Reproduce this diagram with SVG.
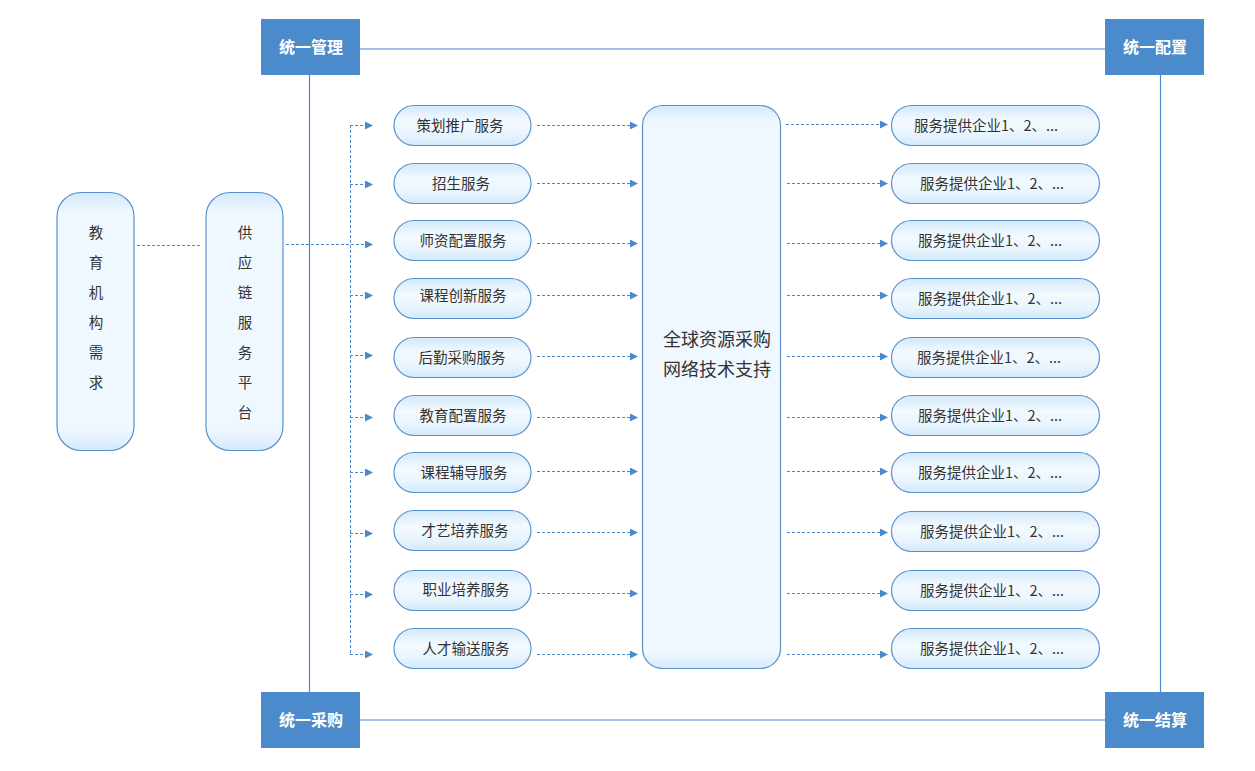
<svg xmlns="http://www.w3.org/2000/svg" width="1255" height="771" viewBox="0 0 1255 771">
<defs>
<linearGradient id="gPill" x1="0" y1="0" x2="0" y2="1">
<stop offset="0" stop-color="#d3e9fa"/>
<stop offset="0.4" stop-color="#f3faff"/>
<stop offset="0.7" stop-color="#eaf5fe"/>
<stop offset="1" stop-color="#d3e9fa"/>
</linearGradient>
<linearGradient id="gTall" x1="0" y1="0" x2="0" y2="1">
<stop offset="0" stop-color="#d3e9fa"/>
<stop offset="0.08" stop-color="#f0f8ff"/>
<stop offset="0.92" stop-color="#f0f8ff"/>
<stop offset="1" stop-color="#d3e9fa"/>
</linearGradient>
<linearGradient id="gBig" x1="0" y1="0" x2="0" y2="1">
<stop offset="0" stop-color="#d3e9fa"/>
<stop offset="0.03" stop-color="#f0f8ff"/>
<stop offset="0.97" stop-color="#f0f8ff"/>
<stop offset="1" stop-color="#d3e9fa"/>
</linearGradient>
<marker id="arr" viewBox="0 0 8 8" refX="7" refY="4" markerWidth="8" markerHeight="8" markerUnits="userSpaceOnUse" orient="auto">
<path d="M0,0 L8,4 L0,8 z" fill="#4a89cb"/>
</marker>
</defs>
<style>
.pill{fill:url(#gPill);stroke:#5a90cd;stroke-width:1.2}
.tall{fill:url(#gTall);stroke:#5a90cd;stroke-width:1.2}
.big{fill:url(#gBig);stroke:#5a90cd;stroke-width:1.2}
.corner{fill:#4b8bcb}
.ctext{font-family:"Noto Sans CJK SC","Liberation Sans",sans-serif;font-size:16px;font-weight:bold;fill:#ffffff;text-anchor:middle}
.t{font-family:"Noto Sans CJK SC","Liberation Sans",sans-serif;font-size:14.5px;fill:#333333;text-anchor:middle}
.tb{font-family:"Noto Sans CJK SC","Liberation Sans",sans-serif;font-size:18px;fill:#333333;text-anchor:middle}
.frame{stroke:#4a89cb;stroke-width:1.2;fill:none}
.dash{stroke:#4a89cb;stroke-width:1;stroke-dasharray:3,2;fill:none}
.da{stroke:#4a89cb;stroke-width:1;stroke-dasharray:3,2;fill:none;marker-end:url(#arr)}
</style>

<g id="frame">
<line class="frame" x1="360" y1="49" x2="1105" y2="49"/>
<line class="frame" x1="360" y1="720" x2="1105" y2="720"/>
<line class="frame" x1="309.5" y1="75" x2="309.5" y2="692"/>
<line class="frame" x1="1160.5" y1="75" x2="1160.5" y2="692"/>
</g>

<g id="connectors">
<line class="dash" x1="137" y1="245.5" x2="200" y2="245.5"/>
<line class="dash" x1="350.5" y1="125" x2="350.5" y2="655"/>
<line class="da" x1="286" y1="244.5" x2="372" y2="244.5"/>
<line class="da" x1="350" y1="125.5" x2="372" y2="125.5"/>
<line class="da" x1="350" y1="184.5" x2="372" y2="184.5"/>
<line class="da" x1="350" y1="295.5" x2="372" y2="295.5"/>
<line class="da" x1="350" y1="355.5" x2="372" y2="355.5"/>
<line class="da" x1="350" y1="417.5" x2="372" y2="417.5"/>
<line class="da" x1="350" y1="472.5" x2="372" y2="472.5"/>
<line class="da" x1="350" y1="533.5" x2="372" y2="533.5"/>
<line class="da" x1="350" y1="594.5" x2="372" y2="594.5"/>
<line class="da" x1="350" y1="654.5" x2="372" y2="654.5"/>

<line class="da" x1="537" y1="125.5" x2="637" y2="125.5"/>
<line class="da" x1="537" y1="183.5" x2="637" y2="183.5"/>
<line class="da" x1="537" y1="243.5" x2="637" y2="243.5"/>
<line class="da" x1="537" y1="295.5" x2="637" y2="295.5"/>
<line class="da" x1="537" y1="356.5" x2="637" y2="356.5"/>
<line class="da" x1="537" y1="417.5" x2="637" y2="417.5"/>
<line class="da" x1="537" y1="471.5" x2="637" y2="471.5"/>
<line class="da" x1="537" y1="532.5" x2="637" y2="532.5"/>
<line class="da" x1="537" y1="593.5" x2="637" y2="593.5"/>
<line class="da" x1="537" y1="654.5" x2="637" y2="654.5"/>

<line class="da" x1="786" y1="124.5" x2="887" y2="124.5"/>
<line class="da" x1="787" y1="183.5" x2="887" y2="183.5"/>
<line class="da" x1="787" y1="243.5" x2="887" y2="243.5"/>
<line class="da" x1="787" y1="295.5" x2="887" y2="295.5"/>
<line class="da" x1="787" y1="356.5" x2="887" y2="356.5"/>
<line class="da" x1="787" y1="417.5" x2="887" y2="417.5"/>
<line class="da" x1="787" y1="471.5" x2="887" y2="471.5"/>
<line class="da" x1="787" y1="532.5" x2="887" y2="532.5"/>
<line class="da" x1="787" y1="593.5" x2="887" y2="593.5"/>
<line class="da" x1="787" y1="654.5" x2="887" y2="654.5"/>
</g>

<g id="c-manage"><rect class="corner" x="261" y="19" width="99" height="56"/><text class="ctext" x="311" y="53">统一管理</text></g>
<g id="c-config"><rect class="corner" x="1105" y="19" width="99" height="56"/><text class="ctext" x="1155" y="53">统一配置</text></g>
<g id="c-purchase"><rect class="corner" x="261" y="692" width="99" height="56"/><text class="ctext" x="311" y="726">统一采购</text></g>
<g id="c-settle"><rect class="corner" x="1105" y="692" width="99" height="56"/><text class="ctext" x="1155" y="726">统一结算</text></g>

<g id="n-edu">
<rect class="tall" x="57" y="192.5" width="77" height="258" rx="24"/>
<text class="t" x="96" y="238">教</text>
<text class="t" x="96" y="268">育</text>
<text class="t" x="96" y="298">机</text>
<text class="t" x="96" y="328">构</text>
<text class="t" x="96" y="358">需</text>
<text class="t" x="96" y="388">求</text>
</g>
<g id="n-platform">
<rect class="tall" x="206" y="192.5" width="77" height="258" rx="24"/>
<text class="t" x="245" y="238">供</text>
<text class="t" x="245" y="268">应</text>
<text class="t" x="245" y="298">链</text>
<text class="t" x="245" y="328">服</text>
<text class="t" x="245" y="358">务</text>
<text class="t" x="245" y="388">平</text>
<text class="t" x="245" y="418">台</text>
</g>

<g id="s1"><rect class="pill" x="394" y="105.5" width="137" height="40" rx="20"/><text class="t" x="460" y="130.5">策划推广服务</text></g>
<g id="s2"><rect class="pill" x="394" y="163.5" width="137" height="40" rx="20"/><text class="t" x="461" y="188.5">招生服务</text></g>
<g id="s3"><rect class="pill" x="394" y="220.5" width="137" height="40" rx="20"/><text class="t" x="463" y="245.5">师资配置服务</text></g>
<g id="s4"><rect class="pill" x="394" y="278.5" width="137" height="40" rx="20"/><text class="t" x="463" y="301">课程创新服务</text></g>
<g id="s5"><rect class="pill" x="394" y="337.5" width="137" height="40" rx="20"/><text class="t" x="462" y="362.5">后勤采购服务</text></g>
<g id="s6"><rect class="pill" x="394" y="395.5" width="137" height="40" rx="20"/><text class="t" x="463" y="420.5">教育配置服务</text></g>
<g id="s7"><rect class="pill" x="394" y="452.5" width="137" height="40" rx="20"/><text class="t" x="464" y="477.5">课程辅导服务</text></g>
<g id="s8"><rect class="pill" x="394" y="510.5" width="137" height="40" rx="20"/><text class="t" x="465" y="535.5">才艺培养服务</text></g>
<g id="s9"><rect class="pill" x="394" y="570.5" width="137" height="40" rx="20"/><text class="t" x="466" y="595">职业培养服务</text></g>
<g id="s10"><rect class="pill" x="394" y="628.5" width="137" height="40" rx="20"/><text class="t" x="466" y="654">人才输送服务</text></g>

<g id="center">
<rect class="big" x="642.5" y="105.5" width="138" height="563" rx="20"/>
<text class="tb" x="717" y="346">全球资源采购</text>
<text class="tb" x="717" y="376">网络技术支持</text>
</g>

<g id="p1"><rect class="pill" x="891.5" y="105.5" width="208" height="40" rx="20"/><text class="t" x="986" y="130.5">服务提供企业1、2、...</text></g>
<g id="p2"><rect class="pill" x="891.5" y="163.5" width="208" height="40" rx="20"/><text class="t" x="992" y="189">服务提供企业1、2、...</text></g>
<g id="p3"><rect class="pill" x="891.5" y="220.5" width="208" height="40" rx="20"/><text class="t" x="990" y="246">服务提供企业1、2、...</text></g>
<g id="p4"><rect class="pill" x="891.5" y="278.5" width="208" height="40" rx="20"/><text class="t" x="990" y="304">服务提供企业1、2、...</text></g>
<g id="p5"><rect class="pill" x="891.5" y="337.5" width="208" height="40" rx="20"/><text class="t" x="989" y="363">服务提供企业1、2、...</text></g>
<g id="p6"><rect class="pill" x="891.5" y="395.5" width="208" height="40" rx="20"/><text class="t" x="990" y="421">服务提供企业1、2、...</text></g>
<g id="p7"><rect class="pill" x="891.5" y="452.5" width="208" height="40" rx="20"/><text class="t" x="990" y="477.5">服务提供企业1、2、...</text></g>
<g id="p8"><rect class="pill" x="891.5" y="511.5" width="208" height="40" rx="20"/><text class="t" x="992" y="537">服务提供企业1、2、...</text></g>
<g id="p9"><rect class="pill" x="891.5" y="570.5" width="208" height="40" rx="20"/><text class="t" x="992" y="596">服务提供企业1、2、...</text></g>
<g id="p10"><rect class="pill" x="891.5" y="628.5" width="208" height="40" rx="20"/><text class="t" x="992" y="654">服务提供企业1、2、...</text></g>
</svg>
